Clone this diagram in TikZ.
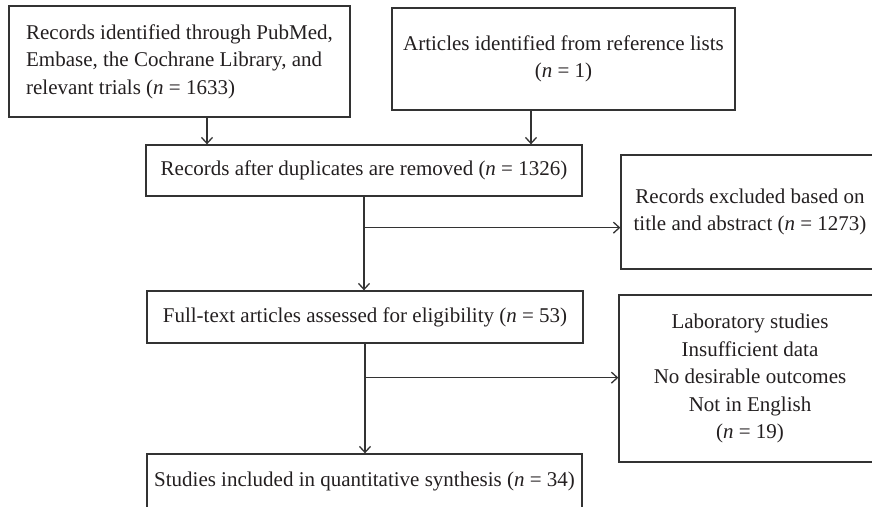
\documentclass[tikz,border=0pt]{standalone}
\usepackage{fontspec}
\setmainfont{Liberation Serif}
\usetikzlibrary{positioning,arrows.meta}
\definecolor{inkgray}{HTML}{231F20}
\definecolor{linegray}{HTML}{333333}
\newcommand{\flowfont}{\fontsize{21}{27.5}\selectfont}
\tikzset{box/.style={draw=linegray, line width=1.3pt, text=inkgray,
        font=\flowfont, align=center, inner sep=2pt},
    arr/.style={draw=linegray, line width=1.3pt,
        -{Straight Barb[length=6pt,width=11pt]}},
    }

\begin{document}
\begin{tikzpicture}[x=1pt,y=-1pt]
	\useasboundingbox (0,0) rectangle (872,506);
	\clip (0,0) rectangle (872,506);
	% identification
	\node[box, align=left, minimum width=341pt, minimum height=111pt]
		(records) at (179.5,61.5)
		{Records identified through PubMed,\\Embase, the Cochrane Library, and\\relevant trials (\textit{n} = 1633)};
	\node[box, minimum width=343pt, minimum height=102pt] (articles) at (563.5,59)
		{Articles identified from reference lists\\(\textit{n} = 1)};
	% screening
	\node[box, minimum width=436pt, minimum height=51pt] (dedup) at (364,170.5)
		{Records after duplicates are removed (\textit{n} = 1326)};
	\node[box, minimum width=258pt, minimum height=114pt] (excluded) at (750,212)
		{Records excluded based on\\title and abstract (\textit{n} = 1273)};
	% eligibility
	\node[box, minimum width=436pt, minimum height=52pt] (fulltext) at (365,317)
		{Full-text articles assessed for eligibility (\textit{n} = 53)};
	\node[box, minimum width=262pt, minimum height=167pt] (reasons) at (750,378.5)
		{Laboratory studies\\Insufficient data\\No desirable outcomes\\Not in English\\(\textit{n} = 19)};
	% included
	\node[box, minimum width=435pt, minimum height=54pt] (studies) at (364.5,481)
		{Studies included in quantitative synthesis (\textit{n} = 34)};

	\coordinate[below=31pt of dedup.south] (split1);
	\coordinate[below=34pt of fulltext.south] (split2);

	\draw[arr] ([xshift=27.5pt]records.south) -- ([xshift=27.5pt]records.south |- dedup.north);
	\draw[arr] ([xshift=-32.5pt]articles.south) -- ([xshift=-32.5pt]articles.south |- dedup.north);
	\draw[arr] (dedup.south) -- (dedup.south |- fulltext.north);
	\draw[arr] (split1) -- (split1 -| excluded.west);
	\draw[arr] (fulltext.south) -- (fulltext.south |- studies.north);
	\draw[arr] (split2) -- (split2 -| reasons.west);
\end{tikzpicture}
\end{document}
